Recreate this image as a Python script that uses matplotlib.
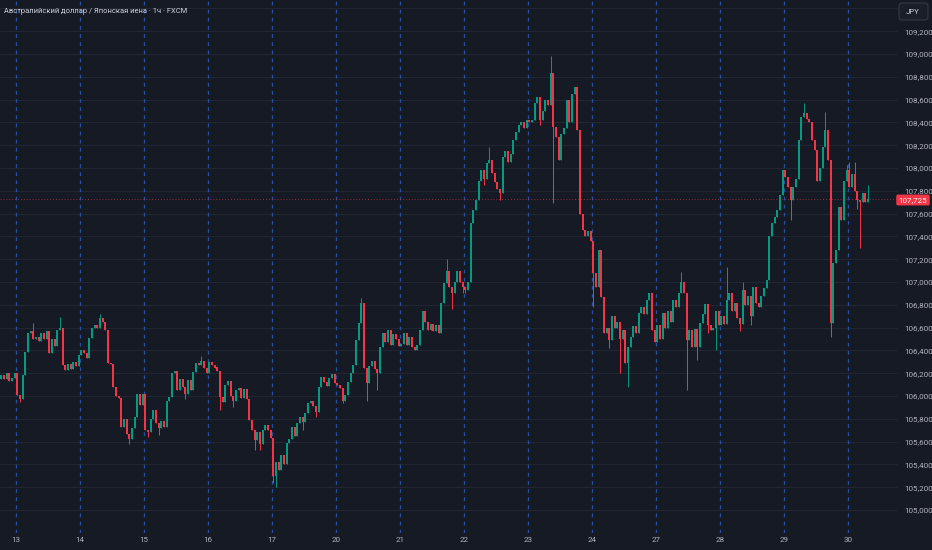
import matplotlib
matplotlib.use("Agg")
import matplotlib.pyplot as plt
import numpy as np
from matplotlib.patches import FancyBboxPatch
from matplotlib.transforms import IdentityTransform

BG = '#161a25'
UP = '#089981'
DN = '#f23645'
GRID = '#222633'
VLINE = '#2850a0'
TXT = '#b2b5be'

title = "Австралийский доллар / Японская иена · 1ч · FXCM"
currency = "JPY"
last_price = 107.725
day_labels = ['13', '14', '15', '16', '17', '20', '21', '22', '23', '24', '27', '28', '29', '30']
price_ticks = [105.0, 105.2, 105.4, 105.6, 105.8, 106.0, 106.2, 106.4, 106.6, 106.8,
               107.0, 107.2, 107.4, 107.6, 107.8, 108.0, 108.2, 108.4, 108.6, 108.8,
               109.0, 109.2]

first_open = 106.15
c_pre = [106.18, 106.15, 106.20, 106.13, 106.16, 106.20]
c13 = [106.01, 105.97, 106.18, 106.39, 106.55, 106.57, 106.50, 106.52, 106.48, 106.55, 106.50, 106.57,
       106.38, 106.50, 106.44, 106.58, 106.60, 106.27, 106.23, 106.28, 106.24, 106.30, 106.26, 106.36]
c14 = [106.40, 106.38, 106.33, 106.51, 106.60, 106.62, 106.60, 106.68, 106.65, 106.58, 106.29, 106.28,
       106.08, 106.00, 105.98, 105.73, 105.80, 105.67, 105.62, 105.72, 105.82, 106.02, 105.92, 106.02]
c15 = [105.70, 105.68, 105.80, 105.88, 105.76, 105.72, 105.78, 105.73, 105.96, 105.99, 106.20, 106.22,
       106.05, 106.15, 106.08, 106.02, 106.14, 106.05, 106.21, 106.29, 106.27, 106.31, 106.25, 106.20]
c16 = [106.30, 106.27, 106.25, 106.22, 105.99, 105.95, 106.10, 106.13, 106.00, 105.96, 106.05, 106.07,
       105.98, 106.06, 105.97, 105.79, 105.70, 105.61, 105.68, 105.58, 105.70, 105.75, 105.70, 105.63]
c17 = [105.30, 105.42, 105.35, 105.48, 105.40, 105.59, 105.62, 105.73, 105.65, 105.76, 105.82, 105.77,
       105.85, 105.94, 105.96, 105.91, 105.86, 106.08, 106.17, 106.12, 106.09, 106.16, 106.19, 106.11]
c20 = [106.10, 106.07, 105.96, 106.01, 106.12, 106.20, 106.27, 106.49, 106.64, 106.82, 106.25, 106.11,
       106.26, 106.31, 106.24, 106.20, 106.43, 106.55, 106.47, 106.58, 106.45, 106.54, 106.50, 106.44]
c21 = [106.46, 106.55, 106.45, 106.52, 106.43, 106.40, 106.45, 106.58, 106.75, 106.65, 106.58, 106.63,
       106.57, 106.62, 106.55, 106.82, 106.99, 107.10, 106.96, 106.90, 107.00, 107.10, 107.00, 106.96]
c22 = [106.93, 107.00, 107.52, 107.63, 107.72, 107.89, 107.98, 107.90, 108.04, 108.07, 107.96, 107.88,
       107.82, 107.78, 108.10, 108.15, 108.05, 108.12, 108.25, 108.32, 108.38, 108.40, 108.35, 108.42]
c23 = [108.40, 108.42, 108.57, 108.62, 108.42, 108.50, 108.60, 108.55, 108.83, 108.36, 108.27, 108.07,
       108.30, 108.35, 108.60, 108.40, 108.65, 108.71, 108.33, 107.60, 107.46, 107.40, 107.45, 107.36]
c24 = [107.08, 106.96, 107.28, 106.87, 106.55, 106.60, 106.49, 106.70, 106.60, 106.65, 106.50, 106.58,
       106.29, 106.43, 106.52, 106.61, 106.55, 106.73, 106.78, 106.72, 106.84, 106.90, 106.58, 106.47]
c27 = [106.62, 106.50, 106.73, 106.60, 106.75, 106.65, 106.84, 106.78, 106.90, 107.00, 106.90, 106.49,
       106.58, 106.43, 106.59, 106.43, 106.64, 106.72, 106.81, 106.62, 106.58, 106.60, 106.75, 106.62]
c28 = [106.70, 106.63, 106.84, 106.90, 106.75, 106.82, 106.68, 106.63, 106.93, 106.80, 106.88, 106.70,
       106.96, 106.82, 106.78, 106.88, 106.95, 107.02, 107.40, 107.52, 107.57, 107.63, 107.76, 107.98]
c29 = [107.92, 107.83, 107.72, 107.83, 107.90, 108.25, 108.45, 108.48, 108.43, 108.40, 108.25, 108.16,
       107.89, 108.00, 108.18, 108.33, 108.07, 106.64, 107.17, 107.28, 107.66, 107.54, 107.89, 107.98]
c30 = [107.83, 107.95, 107.80, 107.72, 107.70, 107.78, 107.70, 107.725]

# visible wick tips (candle index -> price)
high_wicks = {12: 106.64, 22: 106.69, 37: 106.72, 75: 106.35, 135: 106.86, 167: 107.20,
              183: 108.18, 190: 108.15, 206: 108.98, 255: 107.09, 272: 107.13, 278: 107.00,
              301: 108.57, 309: 108.49, 317: 108.03, 318: 108.05, 320: 108.05, 325: 107.85}
low_wicks = {7: 105.95, 48: 105.58, 55: 105.64, 59: 105.66, 69: 105.97, 82: 105.88, 87: 105.90,
             95: 105.53, 97: 105.53, 102: 105.24, 103: 105.20, 113: 105.70, 118: 105.82,
             128: 105.94, 137: 105.96, 141: 106.05, 169: 106.76, 173: 106.90, 174: 106.90,
             181: 107.85, 187: 107.72, 202: 108.38, 207: 107.69, 222: 106.78, 228: 106.42,
             232: 106.20, 235: 106.08, 257: 106.05, 261: 106.32, 265: 106.55, 268: 106.40,
             277: 106.57, 281: 106.62, 296: 107.54, 311: 106.52, 321: 107.64, 322: 107.30}

closes = np.array(c_pre + c13 + c14 + c15 + c16 + c17 + c20 + c21 + c22 + c23 + c24 + c27 + c28 + c29 + c30)
opens = np.concatenate([[first_open], closes[:-1]])
highs = np.maximum(opens, closes)
lows = np.minimum(opens, closes)
for k, v in high_wicks.items():
    highs[k] = max(highs[k], v)
for k, v in low_wicks.items():
    lows[k] = min(lows[k], v)

n = len(closes)
x = np.arange(n) + 0.5
up = closes >= opens
colors = np.where(up, UP, DN)

W, H = 932, 550
PX_PER_CANDLE = 64 / 24
fig = plt.figure(figsize=(W / 100, H / 100), dpi=100, facecolor=BG)
ax_right = 897
ax_bottom = 533
ax = fig.add_axes([0, (H - ax_bottom) / H, ax_right / W, ax_bottom / H])
ax.set_facecolor(BG)

ax.set_xlim(0, ax_right / PX_PER_CANDLE)
px_per_unit = 114.0
ax.set_ylim(105 - (ax_bottom - 510) / px_per_unit, 105 + 510 / px_per_unit)

# horizontal grid
for p in np.arange(104.8, 109.5, 0.2):
    ax.axhline(p, color=GRID, lw=0.8, zorder=0)

# day separators
day_pos = [6 + 24 * k for k in range(len(day_labels))]
for d in day_pos:
    ax.axvline(d, color=VLINE, lw=0.9, dashes=(3, 3.5), zorder=1)

# candles
bh = np.maximum(np.abs(closes - opens), 0.006)
ax.vlines(x, lows, highs, colors=colors, lw=0.7, zorder=2)
ax.bar(x, bh, bottom=np.minimum(opens, closes), width=0.8, color=colors, linewidth=0, zorder=3)

# last price line
ax.axhline(last_price, color=DN, lw=0.7, ls=(0, (1, 2)), alpha=0.6, zorder=1)

for s in ax.spines.values():
    s.set_visible(False)

ax.set_xticks(day_pos)
ax.set_xticklabels(day_labels)
ax.yaxis.tick_right()
ax.set_yticks(price_ticks)
ax.set_yticklabels([f"{p:.3f}".replace('.', ',') for p in price_ticks])
ax.tick_params(axis='x', length=0, pad=3, colors=TXT, labelsize=5.8)
ax.tick_params(axis='y', length=0, pad=5, colors=TXT, labelsize=5.8)
for lab in ax.get_xticklabels() + ax.get_yticklabels():
    lab.set_family('Roboto')

# last price badge
fig.text(913 / W, 1 - 200 / H, f"{last_price:.3f}".replace('.', ','), ha='center', va='center',
         color='white', fontsize=5.8, family='Roboto',
         bbox=dict(boxstyle='round,pad=0.3,rounding_size=0.2', fc=DN, ec='none'))

# currency box
box = FancyBboxPatch((899, H - 20), 29, 17, boxstyle='round,pad=0,rounding_size=3',
                     transform=IdentityTransform(), fc='#1a1e29', ec='#363a45', lw=0.8)
fig.add_artist(box)
fig.text(913 / W, 1 - 11.5 / H, currency, ha='center', va='center', color='#d1d4dc',
         fontsize=5.6, family='Roboto')

fig.text(4 / W, 1 - 11.5 / H, title, ha='left', va='center', color='#d1d4dc',
         fontsize=5.4, family='Roboto')

fig.savefig('out.png', dpi=100, facecolor=BG)
